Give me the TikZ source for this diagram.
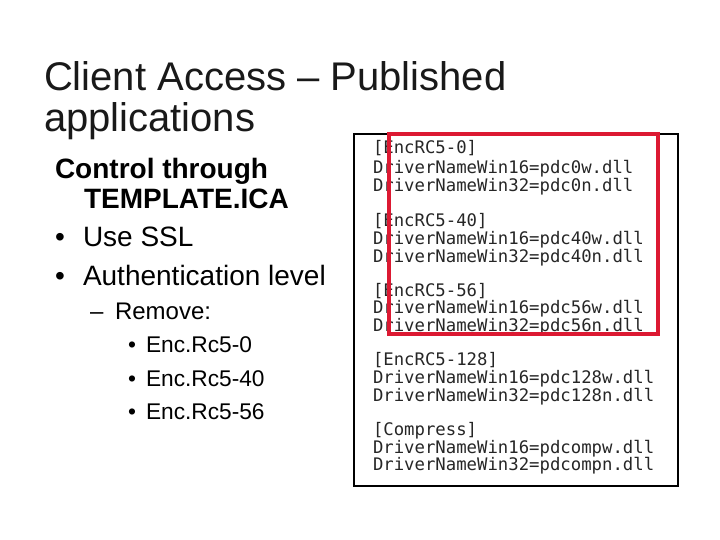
\documentclass[tikz,border=0pt]{standalone}
\usepackage{fontspec}
\setmainfont{Liberation Sans}
\newfontfamily\codefont{DejaVu Sans Mono}
\definecolor{framered}{RGB}{220,25,50}
\tikzset{
  txt/.style={anchor=base west,inner sep=0pt,outer sep=0pt},
  titletxt/.style={txt,font=\fontsize{40}{40}\selectfont,text=black!90},
  bodytxt/.style={txt,font=\fontsize{28}{28}\selectfont},
  boldtxt/.style={txt,font=\fontsize{28}{28}\selectfont\bfseries},
  subtxt/.style={txt,font=\fontsize{24}{24}\selectfont},
  subsubtxt/.style={txt,font=\fontsize{22.7}{22.7}\selectfont},
  codetxt/.style={txt,font=\fontsize{17.3}{17.3}\selectfont\codefont,text=black!85},
  codebox/.style={draw=black,line width=2pt},
  redbox/.style={draw=framered,line width=4pt}
}
\begin{document}
\begin{tikzpicture}[x=1pt,y=-1pt]
\useasboundingbox (0,0) rectangle (720,540);
\node[titletxt] (t1) at (44,91) {Client Access – Published};
\node[titletxt] (t2) at (44,132) {applications};
\node[boldtxt] (b1) at (55,179) {Control through};
\node[boldtxt] (b2) at (84,208) {TEMPLATE.ICA};
\node[bodytxt] (b3b) at (55,246) {•};
\node[bodytxt] (b3) at (83,246) {Use SSL};
\node[bodytxt] (b4b) at (55,285) {•};
\node[bodytxt] (b4) at (83,285) {Authentication level};
\node[subtxt] (s1d) at (90,319) {–};
\node[subtxt] (s1) at (115,319) {Remove:};
\node[subsubtxt] (s2b) at (128,352) {•};
\node[subsubtxt] (s2) at (146,352) {Enc.Rc5-0};
\node[subsubtxt] (s3b) at (128,386) {•};
\node[subsubtxt] (s3) at (146,386) {Enc.Rc5-40};
\node[subsubtxt] (s4b) at (128,419) {•};
\node[subsubtxt] (s4) at (146,419) {Enc.Rc5-56};
\draw[codebox] (354,134) rectangle (678,486);
\node[codetxt] (c1) at (373,154) {[EncRC5-0]};
\node[codetxt] (c2) at (373,174) {DriverNameWin16=pdc0w.dll};
\node[codetxt] (c3) at (373,192) {DriverNameWin32=pdc0n.dll};
\node[codetxt] (c4) at (373,226) {[EncRC5-40]};
\node[codetxt] (c5) at (373,244) {DriverNameWin16=pdc40w.dll};
\node[codetxt] (c6) at (373,262) {DriverNameWin32=pdc40n.dll};
\node[codetxt] (c7) at (373,296) {[EncRC5-56]};
\node[codetxt] (c8) at (373,313) {DriverNameWin16=pdc56w.dll};
\node[codetxt] (c9) at (373,331) {DriverNameWin32=pdc56n.dll};
\node[codetxt] (c10) at (373,365) {[EncRC5-128]};
\node[codetxt] (c11) at (373,383) {DriverNameWin16=pdc128w.dll};
\node[codetxt] (c12) at (373,401) {DriverNameWin32=pdc128n.dll};
\node[codetxt] (c13) at (373,435) {[Compress]};
\node[codetxt] (c14) at (373,453) {DriverNameWin16=pdcompw.dll};
\node[codetxt] (c15) at (373,470) {DriverNameWin32=pdcompn.dll};
\draw[redbox] (389,134) rectangle (658,334);
\end{tikzpicture}
\end{document}
